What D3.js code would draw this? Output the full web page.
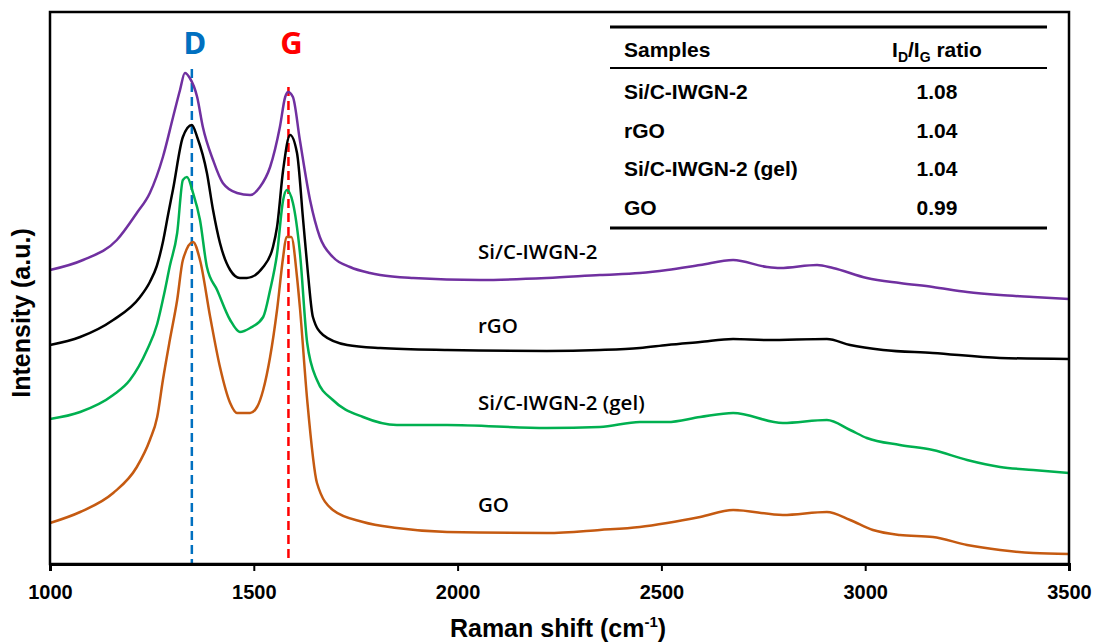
<!DOCTYPE html>
<html>
<head>
<meta charset="utf-8">
<script src="https://cdn.jsdelivr.net/npm/d3@7"></script>
<style>
  body { margin: 0; background: #fff; }
  svg { display: block; }
</style>
</head>
<body>
<svg id="chart" width="1094" height="642"></svg>
<script>
// Raman spectra, offset stack. [wavenumber, intensity (a.u.)]
const siC = [
  [1000,294],[1081,304],[1164,324],[1213,351],[1245,371],[1277,407],[1302,447],[1319,474],
  [1331,491],[1343,486],[1361,467],[1375,437],[1400,404],[1424,381],[1459,371],[1491,369],
  [1515,377],[1540,397],[1564,437],[1577,467],[1584,472],[1596,467],[1613,424],[1638,364],
  [1662,327],[1694,307],[1736,297],[1785,291],[1810,289],[1891,286],[2055,284],[2219,286],
  [2349,289],[2447,291],[2514,294],[2595,299],[2676,304],[2759,297],[2791,296],[2882,299],
  [2921,296],[3004,286],[3085,281],[3166,277],[3250,272],[3331,269],[3412,267],[3500,265]
];
const rGO = [
  [1000,219],[1074,227],[1155,244],[1221,267],[1245,282],[1262,298],[1277,322],[1290,350],
  [1302,375],[1326,427],[1348,439],[1361,427],[1385,391],[1400,354],[1417,321],[1442,294],
  [1466,286],[1483,286],[1523,297],[1547,317],[1557,337],[1572,394],[1589,429],[1606,411],
  [1621,344],[1633,290],[1645,247],[1670,229],[1729,219],[1810,216],[1974,214],[2219,213],
  [2349,214],[2447,216],[2514,219],[2595,222],[2676,225],[2759,224],[2906,225],[2963,219],
  [3044,214],[3166,211],[3331,206],[3500,205]
];
const siCGel = [
  [1000,145],[1074,152],[1155,169],[1196,184],[1238,214],[1263,240],[1280,270],[1294,298],
  [1312,331],[1326,384],[1336,387],[1351,371],[1368,344],[1385,297],[1410,274],[1442,244],
  [1466,232],[1491,236],[1523,247],[1540,274],[1557,310],[1572,364],[1581,374],[1596,361],
  [1613,312],[1631,221],[1655,184],[1694,164],[1768,147],[1851,139],[1974,139],[2219,136],
  [2349,137],[2447,142],[2514,142],[2595,147],[2676,151],[2798,141],[2906,144],[2963,134],
  [3004,126],[3085,119],[3166,114],[3250,104],[3331,97],[3412,94],[3500,91]
];
const GO = [
  [1000,41],[1074,52],[1155,71],[1213,97],[1245,124],[1263,147],[1277,184],[1294,224],
  [1312,264],[1326,304],[1351,322],[1368,304],[1393,247],[1417,197],[1442,161],[1459,151],
  [1491,151],[1508,157],[1523,174],[1540,207],[1557,254],[1572,307],[1580,327],[1592,327],
  [1606,287],[1613,257],[1631,164],[1655,81],[1694,54],[1768,42],[1851,36],[1974,32],
  [2219,31],[2349,34],[2447,37],[2514,41],[2595,47],[2676,54],[2798,49],[2906,52],
  [2963,44],[3019,34],[3085,29],[3166,27],[3250,19],[3331,14],[3412,11],[3500,10]
];

const seriesNames = ["Si/C-IWGN-2", "rGO", "Si/C-IWGN-2 (gel)", "GO"];
const seriesData = [siC, rGO, siCGel, GO];
const seriesColors = ["#7030A0", "#000000", "#00B050", "#C55A11"];
// label anchor: [wavenumber, intensity]
const labelPos = [[2050, 310], [2050, 236], [2050, 159], [2050, 57]];

const xTicks = [1000, 1500, 2000, 2500, 3000, 3500];
const peakNames = ["D", "G"];
const peakPos = [1348, 1585];
const peakColors = ["#0070C0", "#FF0000"];
const peakTop = [495, 477];

const tableSamples = ["Si/C-IWGN-2", "rGO", "Si/C-IWGN-2 (gel)", "GO"];
const tableRatios = ["1.08", "1.04", "1.04", "0.99"];

const svg = d3.select("#chart");
const margin = { top: 12, right: 25, bottom: 78, left: 50 };
const width = 1094 - margin.left - margin.right,
  height = 642 - margin.top - margin.bottom;

const x = d3.scaleLinear().domain([1000, 3500]).range([margin.left, margin.left + width]);
const y = d3.scaleLinear().domain([0, 552]).range([margin.top + height, margin.top]);

// peak marker lines (behind curves)
peakPos.forEach((p, i) => {
  svg.append("line")
    .attr("x1", x(p)).attr("x2", x(p))
    .attr("y1", y(peakTop[i])).attr("y2", y(0))
    .attr("stroke", peakColors[i])
    .attr("stroke-width", 2.5)
    .attr("stroke-dasharray", "9,5");
  svg.append("text")
    .attr("x", x(p) + 3).attr("y", 54)
    .attr("text-anchor", "middle")
    .attr("fill", peakColors[i])
    .style("font-family", "'Noto Sans', 'Open Sans', sans-serif")
    .style("font-weight", "700")
    .style("font-size", "31px")
    .text(peakNames[i]);
});

const line = d3.line()
  .x(d => x(d[0]))
  .y(d => y(d[1]))
  .curve(d3.curveMonotoneX);

seriesData.forEach((s, i) => {
  svg.append("path")
    .datum(s)
    .attr("fill", "none")
    .attr("stroke", seriesColors[i])
    .attr("stroke-width", 2.5)
    .attr("stroke-linejoin", "round")
    .attr("d", line);
  svg.append("text")
    .attr("x", x(labelPos[i][0])).attr("y", y(labelPos[i][1]))
    .attr("dominant-baseline", "middle")
    .style("font-family", "'Open Sans', sans-serif")
    .style("font-weight", "600")
    .style("font-size", "20.5px")
    .text(seriesNames[i]);
});

// frame
svg.append("rect")
  .attr("x", margin.left).attr("y", margin.top)
  .attr("width", width).attr("height", height)
  .attr("fill", "none").attr("stroke", "#000").attr("stroke-width", 2.5);

// x axis
const xAxis = svg.append("g")
  .attr("transform", "translate(0," + (margin.top + height) + ")")
  .call(d3.axisBottom(x).tickValues(xTicks).tickSize(7).tickPadding(14).tickFormat(d3.format("d")));
xAxis.select(".domain").attr("stroke-width", 3);
xAxis.selectAll(".tick line").attr("stroke-width", 2);
xAxis.selectAll(".tick text")
  .style("font-family", "'Liberation Sans', Arial, sans-serif")
  .style("font-weight", "700")
  .style("font-size", "20px")
  .attr("fill", "#000");

// axis titles
const xt = svg.append("text")
  .attr("x", 558).attr("y", 637)
  .attr("text-anchor", "middle")
  .style("font-family", "'Liberation Sans', Arial, sans-serif")
  .style("font-weight", "700")
  .style("font-size", "25px");
xt.append("tspan").text("Raman shift (cm");
xt.append("tspan").attr("dy", -10).style("font-size", "15px").text("-1");
xt.append("tspan").attr("dy", 10).text(")");

svg.append("text")
  .attr("transform", "translate(30,313) rotate(-90)")
  .attr("text-anchor", "middle")
  .style("font-family", "'Liberation Sans', Arial, sans-serif")
  .style("font-weight", "700")
  .style("font-size", "25px")
  .text("Intensity (a.u.)");

// I_D/I_G table
const tbl = svg.append("g")
  .style("font-family", "'Liberation Sans', Arial, sans-serif")
  .style("font-weight", "700")
  .style("font-size", "21px");
const tx0 = 610, tx1 = 1047, col1 = 624, col2 = 937;
tbl.append("line").attr("x1", tx0).attr("x2", tx1).attr("y1", 27).attr("y2", 27)
  .attr("stroke", "#000").attr("stroke-width", 3);
tbl.append("line").attr("x1", tx0).attr("x2", tx1).attr("y1", 68).attr("y2", 68)
  .attr("stroke", "#000").attr("stroke-width", 2);
tbl.append("line").attr("x1", tx0).attr("x2", tx1).attr("y1", 228).attr("y2", 228)
  .attr("stroke", "#000").attr("stroke-width", 3);
tbl.append("text").attr("x", col1).attr("y", 57).text("Samples");
const hdr = tbl.append("text").attr("x", col2).attr("y", 57).attr("text-anchor", "middle");
hdr.append("tspan").text("I");
hdr.append("tspan").attr("dy", 5).style("font-size", "14px").text("D");
hdr.append("tspan").attr("dy", -5).text("/I");
hdr.append("tspan").attr("dy", 5).style("font-size", "14px").text("G");
hdr.append("tspan").attr("dy", -5).text(" ratio");
const rowY = d3.scalePoint().domain(tableSamples).range([99, 215]);
tableSamples.forEach((s, i) => {
  tbl.append("text").attr("x", col1).attr("y", rowY(s)).text(s);
  tbl.append("text").attr("x", col2).attr("y", rowY(s)).attr("text-anchor", "middle").text(tableRatios[i]);
});
</script>
</body>
</html>
